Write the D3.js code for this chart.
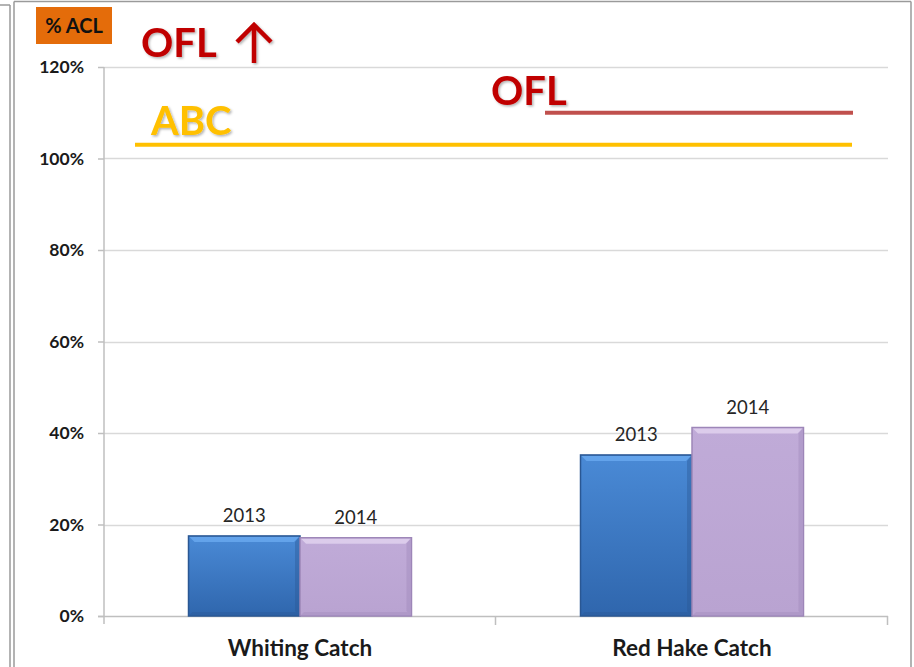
<!DOCTYPE html>
<html><head><meta charset="utf-8">
<script src="https://cdn.jsdelivr.net/npm/d3@7"></script>
<style>
html,body{margin:0;padding:0;background:#fff;}
svg{display:block;font-family:Lato,"Open Sans",sans-serif;}
</style></head>
<body>
<svg id="chart" width="914" height="667"></svg>
<script>
// ---- data ----
const categories = ["Whiting Catch", "Red Hake Catch"];
const years = ["2013", "2014"];
const values2013 = [17.5, 35.2];
const values2014 = [17.1, 41.2];
const yTicks = [0, 20, 40, 60, 80, 100, 120];
const abcValue = 103;
const oflValue = 110;

const svg = d3.select("#chart");
const W = 914, H = 667;
const plot = {left: 104, right: 888, top: 67, bottom: 616};

// frame
const frame = svg.append("g").attr("fill", "none").attr("stroke", "#9a9a9a").attr("stroke-width", 1.5);
frame.append("line").attr("x1", 10).attr("y1", 5).attr("x2", 10).attr("y2", H);
frame.append("line").attr("x1", 0).attr("y1", 5).attr("x2", 10).attr("y2", 5);
frame.append("line").attr("x1", 14).attr("y1", 1.5).attr("x2", 14).attr("y2", H);
frame.append("line").attr("x1", 14).attr("y1", 1.5).attr("x2", 911).attr("y2", 1.5);
frame.append("line").attr("x1", 911).attr("y1", 1.5).attr("x2", 911).attr("y2", H);

const y = d3.scaleLinear().domain([0, 120]).range([plot.bottom, plot.top]);
const x0 = d3.scaleBand().domain(categories).range([plot.left, plot.right]).padding(0);
const x1 = d3.scaleBand().domain(years).range([0, x0.bandwidth()]).paddingInner(0).paddingOuter(0.758);

// gradients
const defs = svg.append("defs");
function grad(id, stops) {
  const g = defs.append("linearGradient").attr("id", id).attr("x1", 0).attr("y1", 0).attr("x2", 0).attr("y2", 1);
  stops.forEach(s => g.append("stop").attr("offset", s[0]).attr("stop-color", s[1]));
}
grad("gBlue", [[0, "#4a8ad6"], [1, "#2f66ad"]]);
grad("gPurple", [[0, "#c0abd8"], [1, "#b9a3d1"]]);
const colors = {"2013": "url(#gBlue)", "2014": "url(#gPurple)"};
const edge = {"2013": "#2a5793", "2014": "#9d86b8"};
const hi = {"2013": "#6aaaf0", "2014": "#e2d5f0"};

// gridlines
const grid = svg.append("g");
grid.selectAll("line").data(yTicks.filter(d => d > 0)).join("line")
  .attr("x1", plot.left).attr("x2", plot.right)
  .attr("y1", d => Math.round(y(d)) + 0.5).attr("y2", d => Math.round(y(d)) + 0.5)
  .attr("stroke", "#d9d9d9").attr("stroke-width", 1.5);

// y axis
const yAxis = svg.append("g").attr("transform", `translate(${plot.left},0)`)
  .call(d3.axisLeft(y).tickValues(yTicks).tickFormat(d => d + "%").tickSize(6).tickPadding(14));
yAxis.select(".domain").attr("stroke", "#bfbfbf").attr("stroke-width", 1.5).attr("d", `M0,${plot.top}V${plot.bottom + 8}`);
yAxis.selectAll(".tick line").attr("stroke", "#bfbfbf").attr("stroke-width", 1.5);
yAxis.selectAll(".tick text").attr("font-size", 17.5).attr("font-weight", "bold").attr("fill", "#1a1a1a")
  .attr("font-family", "Lato, sans-serif");

// x axis
const xAxis = svg.append("g").attr("transform", `translate(0,${plot.bottom})`);
xAxis.append("line").attr("x1", plot.left - 6).attr("x2", plot.right).attr("y1", 0.5).attr("y2", 0.5)
  .attr("stroke", "#bfbfbf").attr("stroke-width", 1.5);
const bounds = categories.map(c => x0(c)).concat([x0(categories[categories.length - 1]) + x0.bandwidth()]);
xAxis.selectAll("line.tk").data(bounds.slice(1)).join("line").attr("class", "tk")
  .attr("x1", d => d - 0.5).attr("x2", d => d - 0.5).attr("y1", 0).attr("y2", 9)
  .attr("stroke", "#bfbfbf").attr("stroke-width", 1.5);
xAxis.selectAll("text").data(categories).join("text")
  .attr("x", d => x0(d) + x0.bandwidth() / 2).attr("y", 40)
  .attr("text-anchor", "middle").attr("font-size", 22.5).attr("font-weight", "bold").attr("fill", "#1a1a1a")
  .text(d => d);

// bars
const rows = categories.map((c, i) => ({cat: c, vals: [values2013[i], values2014[i]]}));
const groups = svg.append("g").selectAll("g").data(rows).join("g")
  .attr("transform", d => `translate(${x0(d.cat)},0)`);
const bars = groups.selectAll("g.bar").data(d => years.map((yr, j) => ({year: yr, v: d.vals[j]}))).join("g").attr("class", "bar");
bars.append("rect")
  .attr("x", d => x1(d.year)).attr("width", x1.bandwidth())
  .attr("y", d => y(d.v)).attr("height", d => y(0) - y(d.v))
  .attr("fill", d => colors[d.year]).attr("stroke", d => edge[d.year]).attr("stroke-width", 1.5);
// bevel top highlight
bars.append("path")
  .attr("d", d => {
    const xa = x1(d.year), xb = xa + x1.bandwidth(), t = y(d.v);
    return `M${xa + 1},${t + 1}H${xb - 1}L${xb - 6},${t + 6}H${xa + 6}Z`;
  })
  .attr("fill", d => hi[d.year]).attr("opacity", 0.8);
// bevel side shading
bars.append("path")
  .attr("d", d => {
    const xa = x1(d.year), xb = xa + x1.bandwidth(), t = y(d.v), b = y(0);
    return `M${xb - 1},${t + 1}V${b - 1}L${xb - 5},${b - 5}V${t + 6}Z`;
  })
  .attr("fill", d => edge[d.year]).attr("opacity", 0.4);
bars.append("path")
  .attr("d", d => {
    const xa = x1(d.year), xb = xa + x1.bandwidth(), b = y(0);
    return `M${xa + 1},${b - 1}H${xb - 1}L${xb - 4},${b - 4}H${xa + 4}Z`;
  })
  .attr("fill", d => edge[d.year]).attr("opacity", 0.35);
// data labels
bars.append("text")
  .attr("x", d => x1(d.year) + x1.bandwidth() / 2).attr("y", d => y(d.v) - 14)
  .attr("text-anchor", "middle").attr("font-size", 18.5).attr("fill", "#262626")
  .text(d => d.year);

// ABC / OFL reference lines
svg.append("line").attr("x1", 135).attr("x2", 852).attr("y1", y(abcValue)).attr("y2", y(abcValue))
  .attr("stroke", "#ffc000").attr("stroke-width", 4);
svg.append("line").attr("x1", 545).attr("x2", 853).attr("y1", y(oflValue)).attr("y2", y(oflValue))
  .attr("stroke", "#c0504d").attr("stroke-width", 4);

// annotations
const shadow = defs.append("filter").attr("id", "sh").attr("x", "-10%").attr("y", "-10%").attr("width", "130%").attr("height", "130%");
shadow.append("feDropShadow").attr("dx", 1.5).attr("dy", 1.5).attr("stdDeviation", 1).attr("flood-color", "#000").attr("flood-opacity", 0.3);

svg.append("text").attr("x", 151).attr("y", 135).attr("font-size", 40).attr("font-weight", "bold")
  .attr("fill", "#ffc000").attr("filter", "url(#sh)").text("ABC");
svg.append("text").attr("x", 491).attr("y", 105).attr("font-size", 40).attr("font-weight", "bold")
  .attr("fill", "#c00000").attr("filter", "url(#sh)").text("OFL");
svg.append("text").attr("x", 141).attr("y", 57).attr("font-size", 40).attr("font-weight", "bold")
  .attr("fill", "#c00000").attr("filter", "url(#sh)").text("OFL");
// up arrow
const ar = svg.append("g").attr("stroke", "#c00000").attr("stroke-width", 4.5).attr("fill", "none")
  .attr("stroke-linecap", "butt").attr("filter", "url(#sh)");
ar.append("line").attr("x1", 254).attr("x2", 254).attr("y1", 25).attr("y2", 63);
ar.append("path").attr("d", "M237,42L254,25L271,42");

// % ACL box
svg.append("rect").attr("x", 36).attr("y", 7).attr("width", 76).attr("height", 37).attr("fill", "#e46c0a");
svg.append("text").attr("x", 74).attr("y", 33).attr("text-anchor", "middle").attr("font-size", 20)
  .attr("font-weight", "bold").attr("fill", "#111").text("% ACL");
</script>
</body></html>
